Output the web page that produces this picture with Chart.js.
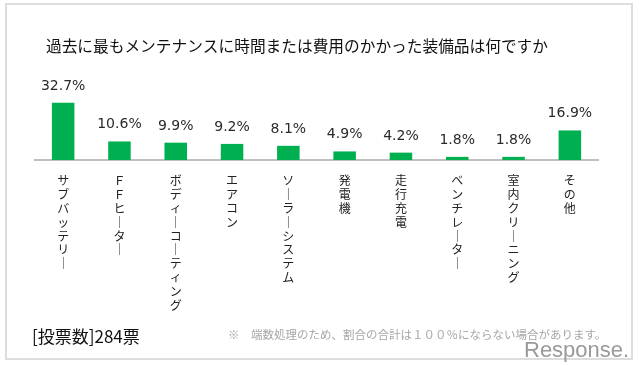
<!DOCTYPE html>
<html>
<head>
<meta charset="utf-8">
<script src="https://cdn.jsdelivr.net/npm/chart.js@4.4.1/dist/chart.umd.min.js"></script>
<style>
html,body{margin:0;padding:0;background:#fff;}
#wrap{position:relative;width:640px;height:366px;}
</style>
</head>
<body>
<div id="wrap"><canvas id="c" width="640" height="366"></canvas></div>
<script>
const categories = ['サブバッテリー','ＦＦヒーター','ボディーコーティング','エアコン','ソーラーシステム','発電機','走行充電','ベンチレーター','室内クリーニング','その他'];
const shares = [32.7, 10.6, 9.9, 9.2, 8.1, 4.9, 4.2, 1.8, 1.8, 16.9];
const titleText = '過去に最もメンテナンスに時間または費用のかかった装備品は何ですか';
const voteText = '[投票数]284票';
const noteText = '※　端数処理のため、割合の合計は１００％にならない場合があります。';
const brandText = 'Response.';

const JP = '"Noto Sans CJK JP", "Noto Sans", sans-serif';

const textPlugin = {
  id: 'texts',
  beforeDraw(chart) {
    const ctx = chart.ctx;
    ctx.save();
    ctx.fillStyle = '#fff';
    ctx.fillRect(0, 0, chart.width, chart.height);
    ctx.strokeStyle = '#dddddd';
    ctx.lineWidth = 2;
    ctx.strokeRect(6, 4, 626, 355);
    ctx.restore();
  },
  afterDatasetsDraw(chart) {
    const ctx = chart.ctx;
    ctx.save();
    const meta = chart.getDatasetMeta(0);
    ctx.font = '14px "DejaVu Sans", Verdana, sans-serif';
    ctx.fillStyle = '#2a2a2a';
    ctx.textAlign = 'center';
    ctx.textBaseline = 'alphabetic';
    meta.data.forEach((bar, i) => {
      const p = bar.getProps(['x', 'y'], true);
      ctx.fillText(shares[i].toFixed(1) + '%', p.x, p.y - 13);
    });
    ctx.restore();
  },
  afterDraw(chart) {
    const ctx = chart.ctx;
    ctx.save();
    ctx.textAlign = 'left';
    ctx.textBaseline = 'alphabetic';
    ctx.fillStyle = '#111';
    ctx.font = '15.7px ' + JP;
    ctx.fillText(titleText, 46, 52);
    ctx.font = '17px ' + JP;
    ctx.fillText(voteText, 32, 343);
    ctx.fillStyle = '#a6a6a6';
    ctx.font = '11.5px ' + JP;
    ctx.fillText(noteText, 228, 339);
    ctx.fillStyle = '#9a9a9a';
    ctx.font = '22px "Liberation Sans", Arial, sans-serif';
    ctx.fillText(brandText, 524, 357);
    ctx.restore();
  }
};

new Chart(document.getElementById('c'), {
  type: 'bar',
  data: {
    labels: categories,
    datasets: [{
      data: shares,
      backgroundColor: '#00B050',
      borderWidth: 0,
      barPercentage: 1,
      categoryPercentage: 0.4
    }]
  },
  options: {
    responsive: false,
    animation: false,
    layout: { padding: { left: 35, right: 42, top: 90, bottom: 0 } },
    plugins: { legend: { display: false }, tooltip: { enabled: false } },
    scales: {
      x: {
        grid: { display: false, drawTicks: false },
        border: { display: true, color: '#BFBFBF', width: 2 },
        ticks: {
          autoSkip: false,
          maxRotation: 0,
          minRotation: 0,
          padding: 14,
          color: '#222',
          font: { family: JP, size: 12, lineHeight: 1.15 },
          callback: (v, i) => categories[i].split('').map(ch => ch === 'ー' ? '｜' : ch)
        },
        afterFit: (s) => { s.height = 206; }
      },
      y: {
        display: false,
        min: 0,
        max: 40
      }
    }
  },
  plugins: [textPlugin]
});
</script>
</body>
</html>
